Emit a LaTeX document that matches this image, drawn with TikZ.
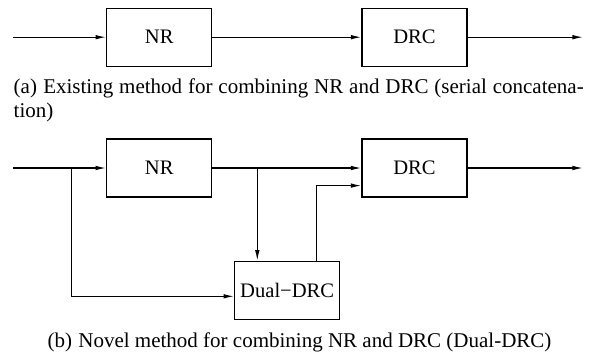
\documentclass[tikz,border=0pt]{standalone}
\usepackage{fontspec}
\setmainfont{Liberation Serif}
\usetikzlibrary{arrows.meta}

\begin{document}
\begin{tikzpicture}[x=0.5pt, y=-0.5pt,
		block/.style={rectangle, draw, minimum width=52.5pt, minimum height=29pt, inner sep=0pt,
		text centered, line width=0.6pt, font=\fontsize{10.3}{12.4}\selectfont},
		flow/.style={line width=0.6pt, -{Latex[length=5.3pt, width=2.3pt]}},
		caption/.style={inner sep=0pt, font=\fontsize{10.5}{12.3}\selectfont}]
		
		\useasboundingbox (0,0) rectangle (597,354);
		
		%Serial chain
		\node (nrTop) at (159.2,37.2) [block]{NR};
		\node (drcTop) at (414.5,37.2) [block]{DRC};
		\coordinate (inTop) at (13.3,37.2);
		\coordinate (outTop) at (583,37.2);
		
		\draw[flow] (inTop) -- (nrTop);
		\draw[flow] (nrTop) -- (drcTop);
		\draw[flow] (drcTop) -- (outTop);
		
		%Caption a
		\node (capA) at (13.3,93.3) [caption, anchor=base west, text width=285pt, align=justify]
		{(a)\hspace{0.3em}Existing method for combining NR and DRC (serial concatena-\linebreak tion)};
		
		%Dual chain
		\node (nrBot) at (159.2,168) [block]{NR};
		\node (drcBot) at (414.5,168) [block]{DRC};
		\node (dualDrc) at (287.2,290.3) [block]{Dual−DRC};
		\coordinate (inBot) at (13.3,168);
		\coordinate (outBot) at (583,168);
		\coordinate (splitIn) at (71.7,168);
		\coordinate (splitNr) at (257.3,168);
		
		\draw[flow] (inBot) -- (nrBot);
		\draw[flow] (nrBot) -- (drcBot);
		\draw[flow] (drcBot) -- (outBot);
		\draw[flow] (splitIn) |- ([yshift=-3pt]dualDrc.west);
		\draw[flow] (splitNr) -- (splitNr |- dualDrc.north);
		\draw[flow] ([xshift=14.5pt]dualDrc.north) |- ([yshift=-8.8pt]drcBot.west);
		
		%Caption b
		\node (capB) at (299.5,347) [caption, anchor=base]
		{(b)\hspace{0.3em}Novel method for combining NR and DRC (Dual-DRC)};
		
\end{tikzpicture}
\end{document}
